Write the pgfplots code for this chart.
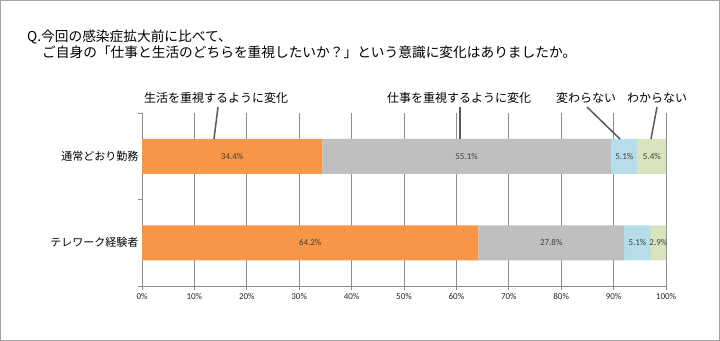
\documentclass[border=0pt]{standalone}
\usepackage{fontspec}
\setmainfont{Noto Sans CJK JP}
\newfontfamily\numfont{Carlito}
\usepackage{pgfplots}
\pgfplotsset{compat=1.18}
\definecolor{cOr}{HTML}{F79646}
\definecolor{cGr}{HTML}{BFBFBF}
\definecolor{cBl}{HTML}{B7DEE8}
\definecolor{cGn}{HTML}{D7E4BD}
\definecolor{gridgray}{HTML}{8C8C8C}
\definecolor{callgray}{HTML}{595959}
\definecolor{txt}{HTML}{404040}
\begin{document}
\begin{tikzpicture}
\useasboundingbox (0,0) rectangle (720bp,-341bp);
\draw[color=black!35, line width=1.2bp] (0.6bp,-0.6bp) rectangle (719.4bp,-340.4bp);
\node[anchor=west, inner sep=0pt, font=\fontsize{13.7bp}{15bp}\selectfont] at (27bp,-37bp) {Q.今回の感染症拡大前に比べて、};
\node[anchor=west, inner sep=0pt, font=\fontsize{13.7bp}{15bp}\selectfont] at (42bp,-52bp) {ご自身の「仕事と生活のどちらを重視したいか？」という意識に変化はありましたか。};
\begin{axis}[
  at={(142bp,-286bp)}, anchor=south west,
  scale only axis, width=524bp, height=173bp,
  /pgf/number format/assume math mode=true,
  xbar stacked, bar width=35bp,
  xmin=0, xmax=100, ymin=-0.5, ymax=1.5,
  axis x line*=bottom, axis y line*=left,
  axis line style={draw=gridgray, line width=0.8bp},
  xtick={0,10,...,100},
  xticklabel={\pgfmathprintnumber{\tick}\%},
  xticklabel style={font=\numfont\fontsize{9bp}{10bp}\selectfont, text=black!85},
  ytick={-0.5,0.5,1.5}, yticklabels={},
  extra y ticks={0,1},
  extra y tick labels={テレワーク経験者,通常どおり勤務},
  extra y tick style={grid=none, major tick style={draw=none},
    yticklabel style={font=\fontsize{11bp}{12bp}\selectfont, text=black, xshift=4bp}},
  tick align=outside, major tick length=4bp,
  tick style={draw=gridgray, line width=0.8bp},
  xmajorgrids, grid style={draw=gridgray, line width=0.8bp},
  clip=false,
]
\addplot[fill=cOr, draw=none] coordinates {(64.2,0) (34.4,1)};
\addplot[fill=cGr, draw=none] coordinates {(27.8,0) (55.1,1)};
\addplot[fill=cBl, draw=none] coordinates {(5.1,0) (5.1,1)};
\addplot[fill=cGn, draw=none] coordinates {(2.9,0) (5.4,1)};
\end{axis}
\begin{axis}[
  at={(142bp,-286bp)}, anchor=south west,
  scale only axis, width=524bp, height=173bp,
  /pgf/number format/assume math mode=true,
  xmin=0, xmax=100, ymin=-0.5, ymax=1.5,
  hide axis, clip=false,
]
\addplot[draw=none, mark=none, point meta=explicit,
  nodes near coords={\pgfmathprintnumber[fixed,precision=1,fixed zerofill]{\pgfplotspointmeta}\%},
  every node near coord/.append style={anchor=center, inner sep=0pt, font=\numfont\fontsize{9bp}{10bp}\selectfont, text=txt}]
  table[x=x, y=y, meta=v] {
x y v
17.2 1 34.4
61.95 1 55.1
92.05 1 5.1
97.3 1 5.4
32.1 0 64.2
78.1 0 27.8
94.55 0 5.1
98.55 0 2.9
};
\end{axis}
\begin{scope}[font=\fontsize{12bp}{13bp}\selectfont]
\node[inner sep=0pt] at (216bp,-98bp) {生活を重視するように変化};
\node[inner sep=0pt] at (459bp,-98bp) {仕事を重視するように変化};
\node[inner sep=0pt] at (586bp,-98bp) {変わらない};
\node[inner sep=0pt] at (657bp,-98bp) {わからない};
\end{scope}
\begin{scope}[draw=callgray, line width=1.5bp]
\draw (218bp,-107bp) -- (214bp,-139bp);
\draw (460bp,-107bp) -- (460bp,-139bp);
\draw (587bp,-107bp) -- (620bp,-139bp);
\draw (657bp,-107bp) -- (651bp,-139bp);
\end{scope}
\end{tikzpicture}
\end{document}
